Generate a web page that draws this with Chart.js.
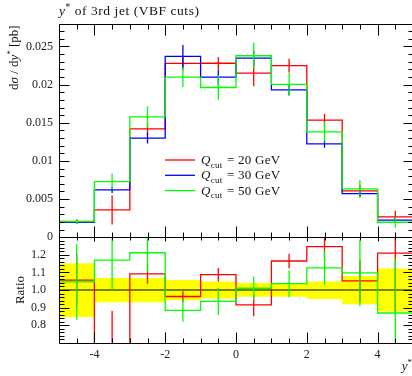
<!DOCTYPE html>
<html><head><meta charset="utf-8">
<script src="https://cdn.jsdelivr.net/npm/chart.js@4.4.1/dist/chart.umd.min.js"></script>
<style>
html,body{margin:0;padding:0;background:#fff;overflow:hidden;width:412px;height:376px;}
#wrap{position:relative;width:412px;height:376px;overflow:hidden;background:#fff;}
canvas{position:absolute;left:0;top:0;}
</style></head><body>
<div id="wrap">
<canvas id="main" width="414" height="376" style="width:414px;height:376px"></canvas>
<canvas id="ratio" width="414" height="376" style="width:414px;height:376px"></canvas>
</div>
<script>
// ---------- data ----------
const binEdges = [-5, -4, -3, -2, -1, 0, 1, 2, 3, 4, 5];
const seriesLabels = ['20 GeV', '30 GeV', '50 GeV'];

const q20 = [0.00207, 0.00358, 0.0142, 0.02277, 0.0228, 0.0215, 0.0225, 0.01534, 0.00607, 0.00267];
const q30 = [0.00196, 0.0062, 0.0130, 0.02369, 0.02098, 0.02347, 0.01932, 0.01224, 0.00573, 0.00224];
const q50 = [0.00205, 0.0073, 0.01578, 0.02098, 0.01962, 0.02378, 0.02002, 0.01381, 0.00634, 0.00197];

const q20Err = [0.0003, 0.0019, 0.0008, 0.0009, 0.0008, 0.0017, 0.0009, 0.0008, 0.0008, 0.0008];
const q30Err = [0.0002, 0.0004, 0.0007, 0.0015, 0.0010, 0.0010, 0.0007, 0.0005, 0.0004, 0.0003];
const q50Err = [0.0003, 0.00105, 0.0014, 0.0013, 0.0016, 0.0017, 0.0015, 0.0013, 0.0012, 0.0007];

const ratio20 = [1.056, 0.58, 1.092, 0.963, 1.087, 0.915, 1.165, 1.247, 1.052, 1.21];
const ratio50 = [1.046, 1.17, 1.212, 0.884, 0.935, 1.01, 1.036, 1.126, 1.097, 0.869];
const ratio20Err = [0.15, 0.30, 0.056, 0.03, 0.038, 0.065, 0.042, 0.065, 0.12, 0.35];
const ratio50Err = [0.215, 0.17, 0.11, 0.065, 0.078, 0.065, 0.077, 0.097, 0.19, 0.31];
const refRatio = [1, 1];
const bandUpper = [1.152, 1.068, 1.068, 1.057, 1.048, 1.04, 1.038, 1.048, 1.08, 1.123];
const bandLower = [0.846, 0.930, 0.930, 0.941, 0.951, 0.962, 0.961, 0.949, 0.919, 0.877];

const mainYTicks = [0, 0.005, 0.01, 0.015, 0.02, 0.025];
const mainYTickLabels = ['0', '0.005', '0.01', '0.015', '0.02', '0.025'];
const ratioYTicks = [0.8, 0.9, 1.0, 1.1, 1.2];
const ratioYTickLabels = ['0.8', '0.9', '1.0', '1.1', '1.2'];
const xTicks = [-4, -2, 0, 2, 4];
const xTickLabels = ['-4', '-2', '0', '2', '4'];

// ---------- helpers ----------
const FONT = '"Liberation Serif", "DejaVu Serif", serif';
const RED = '#ff0000', BLUE = '#0000ff', GREEN = '#00ff00', YELLOW = '#ffff00';
const LW = 1.3;

function steps(vals) {
  const pts = vals.map((v, i) => ({x: binEdges[i], y: v}));
  pts.push({x: binEdges[binEdges.length - 1], y: vals[vals.length - 1]});
  return pts;
}
function errBars(vals, errs) {
  const pts = [];
  vals.forEach((v, i) => {
    const c = (binEdges[i] + binEdges[i + 1]) / 2;
    pts.push({x: c, y: v - errs[i]}, {x: c, y: v + errs[i]}, {x: c, y: null});
  });
  return pts;
}
function stepDs(label, vals, color, order) {
  return {label, data: steps(vals), borderColor: color, borderWidth: LW, stepped: 'before',
    pointRadius: 0, fill: false, order, clip: 0, borderJoinStyle: 'miter'};
}
function errDs(vals, errs, color, order) {
  return {data: errBars(vals, errs), borderColor: color, borderWidth: LW, pointRadius: 0,
    fill: false, spanGaps: false, order, clip: 0, isErr: true};
}
function tickVals(min, max, step) {
  const out = [];
  const n0 = Math.ceil(min / step - 1e-6), n1 = Math.floor(max / step + 1e-6);
  for (let k = n0; k <= n1; k++) out.push(+(k * step).toFixed(6));
  return out;
}
function isMult(v, s) { const r = v / s; return Math.abs(r - Math.round(r)) < 1e-6; }

function fontFor(p, size) {
  const s = (p.sub || p.sup) ? size * 0.7 : size;
  return (p.italic ? 'italic ' : '') + s.toFixed(2) + 'px ' + FONT;
}
function richWidth(ctx, parts, size) {
  let w = 0;
  for (const p of parts) { ctx.font = fontFor(p, size); w += ctx.measureText(p.t).width + (p.kern || 0); }
  return w;
}
function drawRich(ctx, parts, x, y, size) {
  let cx = x;
  for (const p of parts) {
    ctx.font = fontFor(p, size);
    const dy = p.sub ? size * 0.28 : (p.sup ? -size * 0.36 : 0);
    ctx.fillText(p.t, cx, y + dy);
    cx += ctx.measureText(p.t).width + (p.kern || 0);
  }
}

// frame + inward ticks
const framePlugin = {
  id: 'frame',
  afterDatasetsDraw(chart, args, o) {
    const {ctx, chartArea: a} = chart;
    const x = chart.scales.x, y = chart.scales.y;
    const L = Math.round(a.left) + 0.5, R = Math.round(a.right) + 0.5;
    const T = Math.round(a.top) + 0.5, B = Math.round(a.bottom) + 0.5;
    ctx.save();
    ctx.strokeStyle = '#000';
    ctx.lineWidth = 1;
    ctx.beginPath();
    for (const v of tickVals(x.min, x.max, o.xMinor)) {
      if (v <= x.min || v >= x.max) continue;
      const major = isMult(v, o.xMajor);
      const px = Math.round(x.getPixelForValue(v)) + 0.5;
      const lt = major ? o.top[0] : o.top[1];
      const lb = major ? o.bottom[0] : o.bottom[1];
      ctx.moveTo(px, T); ctx.lineTo(px, T + lt);
      ctx.moveTo(px, B); ctx.lineTo(px, B - lb);
    }
    for (const v of tickVals(y.min, y.max, o.yMinor)) {
      if (v <= y.min || v >= y.max) continue;
      const major = isMult(v, o.yMajor);
      const py = Math.round(y.getPixelForValue(v)) + 0.5;
      const l = major ? o.side[0] : o.side[1];
      ctx.moveTo(L, py); ctx.lineTo(L + l, py);
      ctx.moveTo(R, py); ctx.lineTo(R - l, py);
    }
    ctx.rect(L, T, R - L, B - T);
    ctx.stroke();
    ctx.restore();
  }
};

// texts for main panel: title, y title, legend
const mainTextPlugin = {
  id: 'mainText',
  afterDraw(chart) {
    const {ctx, chartArea: a} = chart;
    ctx.save();
    ctx.fillStyle = '#111';
    ctx.textBaseline = 'alphabetic';
    ctx.textAlign = 'left';
    ctx.letterSpacing = '0.55px';
    drawRich(ctx, [{t: 'y', italic: true}, {t: '*', sup: true}, {t: ' of 3rd jet (VBF cuts)'}], a.left, 15, 13.5);
    ctx.letterSpacing = '0px';
    const yt = [{t: 'd'}, {t: 'σ', italic: true}, {t: ' / d'}, {t: 'y', italic: true}, {t: '*', sup: true}, {t: ' [pb]'}];
    ctx.save();
    ctx.translate(17.5, a.top + 1);
    ctx.rotate(-Math.PI / 2);
    const w = richWidth(ctx, yt, 13);
    drawRich(ctx, yt, -w, 0, 13);
    ctx.restore();
    const lines = chart.data.datasets.filter(d => !d.isErr);
    const byLabel = seriesLabels.map(l => lines.find(d => d.label === l));
    const rowY = [160, 175.3, 190.6];
    ctx.letterSpacing = '0.25px';
    byLabel.forEach((d, i) => {
      const yy = rowY[i];
      ctx.strokeStyle = d.borderColor;
      ctx.lineWidth = LW;
      ctx.beginPath(); ctx.moveTo(165, yy); ctx.lineTo(195, yy); ctx.stroke();
      drawRich(ctx, [{t: 'Q', italic: true}, {t: 'cut', sub: true, kern: 1}, {t: ' = ' + d.label}], 201, yy + 4, 13);
    });
    ctx.restore();
  }
};

const ratioTextPlugin = {
  id: 'ratioText',
  afterDraw(chart) {
    const {ctx, chartArea: a} = chart;
    ctx.save();
    ctx.fillStyle = '#111';
    ctx.textBaseline = 'alphabetic';
    ctx.save();
    ctx.translate(24, (a.top + a.bottom) / 2);
    ctx.rotate(-Math.PI / 2);
    ctx.font = '13px ' + FONT;
    ctx.textAlign = 'center';
    ctx.fillText('Ratio', 0, 0);
    ctx.restore();
    const xt = [{t: 'y', italic: true}, {t: '*', sup: true}];
    const w = richWidth(ctx, xt, 13);
    drawRich(ctx, xt, 412 - w, 370, 13);
    ctx.restore();
  }
};

const tickFont = {family: FONT, size: 12};
const common = {
  responsive: false, animation: false, events: [],
  plugins: {legend: {display: false}, tooltip: {enabled: false}, title: {display: false}},
};

new Chart(document.getElementById('main'), {
  type: 'line',
  data: {datasets: [
    stepDs(seriesLabels[0], q20, RED, 2), errDs(q20, q20Err, RED, 2),
    stepDs(seriesLabels[1], q30, BLUE, 1), errDs(q30, q30Err, BLUE, 1),
    stepDs(seriesLabels[2], q50, GREEN, 0), errDs(q50, q50Err, GREEN, 0),
  ]},
  options: Object.assign({}, common, {
    layout: {padding: {top: 24.3, bottom: 376 - 237.3, left: 0, right: 1}},
    scales: {
      x: {type: 'linear', min: -5, max: 5, display: false},
      y: {
        type: 'linear', min: 0, max: 0.0279,
        afterFit(s) { s.width = 59; },
        afterBuildTicks(s) { s.ticks = mainYTicks.map(v => ({value: v})); },
        grid: {display: false, drawTicks: false}, border: {display: false},
        ticks: {autoSkip: false, padding: 6, font: tickFont, color: '#222',
          callback: (v, i) => mainYTickLabels[i]}
      }
    },
    plugins: Object.assign({}, common.plugins, {
      frame: {xMajor: 2, xMinor: 0.5, yMajor: 0.005, yMinor: 0.001, top: [11, 5], bottom: [11, 5], side: [10, 5]}
    })
  }),
  plugins: [framePlugin, mainTextPlugin]
});

new Chart(document.getElementById('ratio'), {
  type: 'line',
  data: {datasets: [
    {data: steps(bandUpper), borderWidth: 0, borderColor: 'rgba(0,0,0,0)', stepped: 'before', pointRadius: 0, fill: false, order: 10, clip: 0, isErr: true},
    {data: steps(bandLower), borderWidth: 0, borderColor: 'rgba(0,0,0,0)', stepped: 'before', pointRadius: 0, fill: '-1', backgroundColor: YELLOW, order: 9, clip: 0, isErr: true},
    {data: refRatio.map((v, i) => ({x: binEdges[i * (binEdges.length - 1)], y: v})), borderColor: '#000', borderWidth: 1.2, pointRadius: 0, fill: false, order: 5, clip: 0, isErr: true},
    stepDs(seriesLabels[0], ratio20, RED, 2), errDs(ratio20, ratio20Err, RED, 2),
    stepDs(seriesLabels[2], ratio50, GREEN, 0), errDs(ratio50, ratio50Err, GREEN, 0),
  ]},
  options: Object.assign({}, common, {
    layout: {padding: {top: 237.3, bottom: 0, left: 0, right: 1}},
    scales: {
      x: {
        type: 'linear', min: -5, max: 5,
        afterFit(s) { s.height = 376 - 342.7; },
        afterBuildTicks(s) { s.ticks = xTicks.map(v => ({value: v})); },
        grid: {display: false, drawTicks: false}, border: {display: false},
        ticks: {autoSkip: false, maxRotation: 0, padding: 5, font: tickFont, color: '#222',
          callback: (v, i) => xTickLabels[i]}
      },
      y: {
        type: 'linear', min: 0.7, max: 1.3,
        afterFit(s) { s.width = 59; },
        afterBuildTicks(s) { s.ticks = ratioYTicks.map(v => ({value: v})); },
        grid: {display: false, drawTicks: false}, border: {display: false},
        ticks: {autoSkip: false, padding: 13, font: tickFont, color: '#222',
          callback: (v, i) => ratioYTickLabels[i]}
      }
    },
    plugins: Object.assign({}, common.plugins, {
      frame: {xMajor: 2, xMinor: 0.5, yMajor: 0.1, yMinor: 0.02, top: [4, 3], bottom: [11, 5], side: [10, 5]}
    })
  }),
  plugins: [framePlugin, ratioTextPlugin]
});
</script>
</body></html>
